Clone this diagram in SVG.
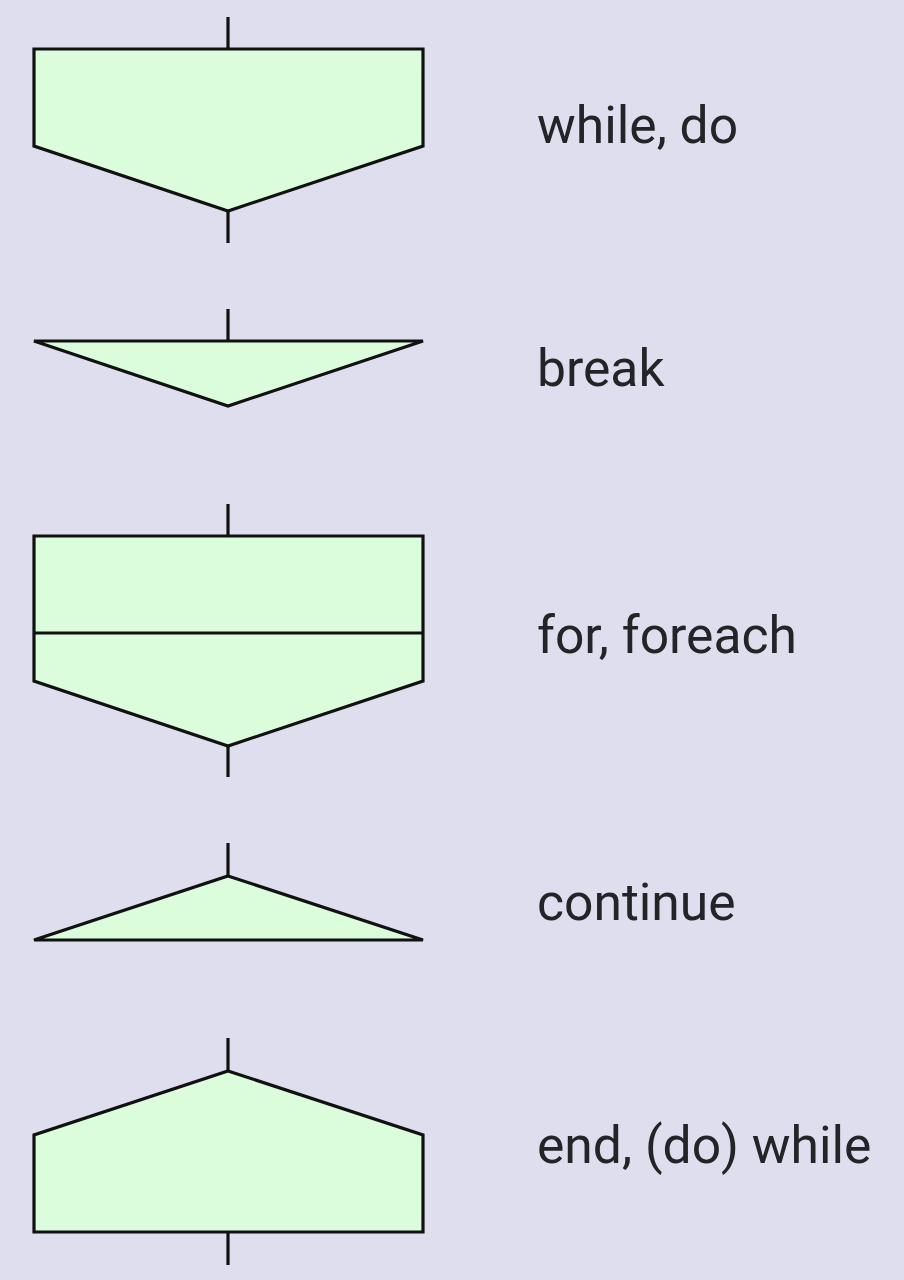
<svg xmlns="http://www.w3.org/2000/svg" width="904" height="1280" viewBox="0 0 904 1280">
<style>
.shape{fill:#dcfddc;stroke:#111;stroke-width:3.2;stroke-linejoin:miter}
.stub{stroke:#111;stroke-width:3.2;fill:none}
.lbl{font-family:Roboto,"Liberation Sans",sans-serif;font-size:51.6px;fill:#222428}
</style>
<rect x="0" y="0" width="904" height="1280" fill="#dedeee"/>
<g id="connectors">
<line class="stub" x1="228" y1="17" x2="228" y2="49"/>
<line class="stub" x1="228" y1="211" x2="228" y2="243"/>
<line class="stub" x1="228" y1="309" x2="228" y2="341"/>
<line class="stub" x1="228" y1="504" x2="228" y2="536"/>
<line class="stub" x1="228" y1="746" x2="228" y2="777"/>
<line class="stub" x1="228" y1="843" x2="228" y2="876"/>
<line class="stub" x1="228" y1="1038" x2="228" y2="1071"/>
<line class="stub" x1="228" y1="1233" x2="228" y2="1265"/>
</g>
<g id="while">
<polygon class="shape" points="34,49 423,49 423,146 228,211 34,146"/>
<text class="lbl" x="537" y="143">while, do</text>
</g>
<g id="break">
<polygon class="shape" points="34,341 423,341 228,406"/>
<text class="lbl" x="537" y="386">break</text>
</g>
<g id="for">
<polygon class="shape" points="34,536 423,536 423,681 228,746 34,681"/>
<line class="stub" x1="34" y1="633" x2="423" y2="633"/>
<text class="lbl" x="537" y="653">for, foreach</text>
</g>
<g id="continue">
<polygon class="shape" points="228,876 423,940 34,940"/>
<text class="lbl" x="537" y="920">continue</text>
</g>
<g id="end">
<polygon class="shape" points="228,1071 423,1135 423,1232 34,1232 34,1135"/>
<text class="lbl" x="537" y="1163">end, (do) while</text>
</g>
</svg>
